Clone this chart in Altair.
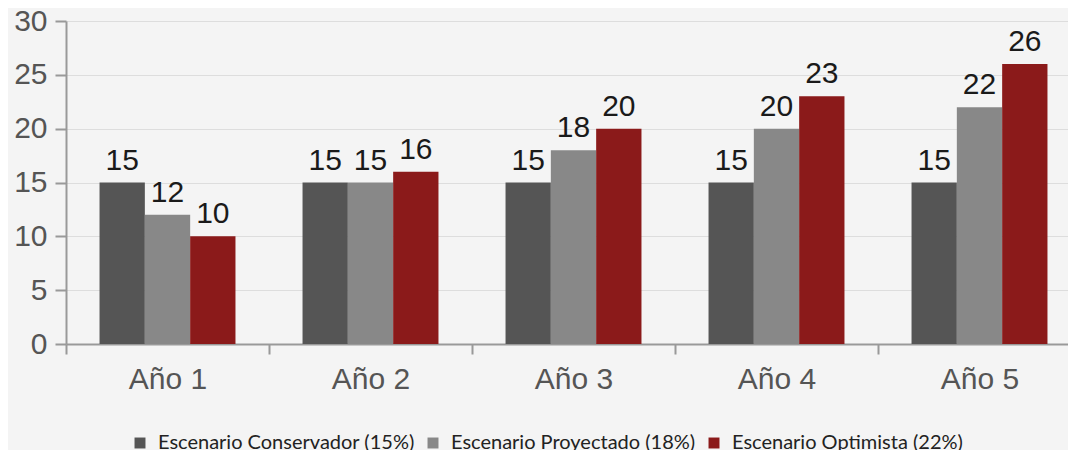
import altair as alt
import pandas as pd

categories = ["Año 1", "Año 2", "Año 3", "Año 4", "Año 5"]
series = ["Escenario Conservador (15%)", "Escenario Proyectado (18%)", "Escenario Optimista (22%)"]
conservador = [15, 15, 15, 15, 15]
proyectado = [12, 15, 18, 20, 22]
optimista = [10, 16, 20, 23, 26]
colors = ["#555555", "#888888", "#8b1a1a"]

rows = []
for s, vals in zip(series, [conservador, proyectado, optimista]):
    for c, v in zip(categories, vals):
        rows.append({"cat": c, "serie": s, "valor": v})
df = pd.DataFrame(rows)

x = alt.X("cat:N", sort=categories, title=None,
          scale=alt.Scale(paddingInner=0, paddingOuter=0),
          axis=alt.Axis(tickBand="extent", labelAngle=0, labelFont="Liberation Sans",
                        labelFontSize=30, labelColor="#555555", labelPadding=10,
                        domainColor="#999999", domainWidth=2, tickColor="#999999",
                        tickWidth=2, tickSize=10, grid=False))
xo = alt.XOffset("serie:N", sort=series,
                 scale=alt.Scale(paddingInner=0, paddingOuter=0.74))
y = alt.Y("valor:Q", title=None,
          scale=alt.Scale(domain=[0, 30], nice=False),
          axis=alt.Axis(values=[0, 5, 10, 15, 20, 25, 30], labelFont="Liberation Sans",
                        labelFontSize=30, labelColor="#555555", labelPadding=8,
                        domainColor="#999999", domainWidth=2, tickColor="#999999",
                        tickWidth=2, tickSize=11, gridColor="#dddddd", gridWidth=1,
                        labelBaseline="middle"))

color = alt.Color("serie:N", sort=series,
                  scale=alt.Scale(domain=series, range=colors),
                  legend=alt.Legend(title=None, orient="none", direction="horizontal",
                                    legendX=64, legendY=412, columns=3, columnPadding=8,
                                    symbolType="square", symbolSize=120, symbolStrokeWidth=0,
                                    labelFont="Lato", labelFontSize=20, labelColor="#222222",
                                    labelLimit=500,
                                    padding=0, symbolOffset=0, labelOffset=8))

bars = alt.Chart(df).mark_bar().encode(x=x, xOffset=xo, y=y, color=color)
labels = alt.Chart(df).mark_text(font="Liberation Sans", fontSize=30, color="#1a1a1a",
                                 baseline="alphabetic", dy=-13).encode(
    x=alt.X("cat:N", sort=categories), xOffset=alt.XOffset("serie:N", sort=series),
    y="valor:Q", text="valor:Q")

chart = (bars + labels).properties(
    width=1015, height=323, background="#f4f4f4",
    padding={"left": 58, "top": 13, "right": -13, "bottom": 106},
    autosize=alt.AutoSizeParams(type="none")
).configure_view(stroke=None)

chart.save("out.html", embed_options={"renderer": "svg", "actions": False})
